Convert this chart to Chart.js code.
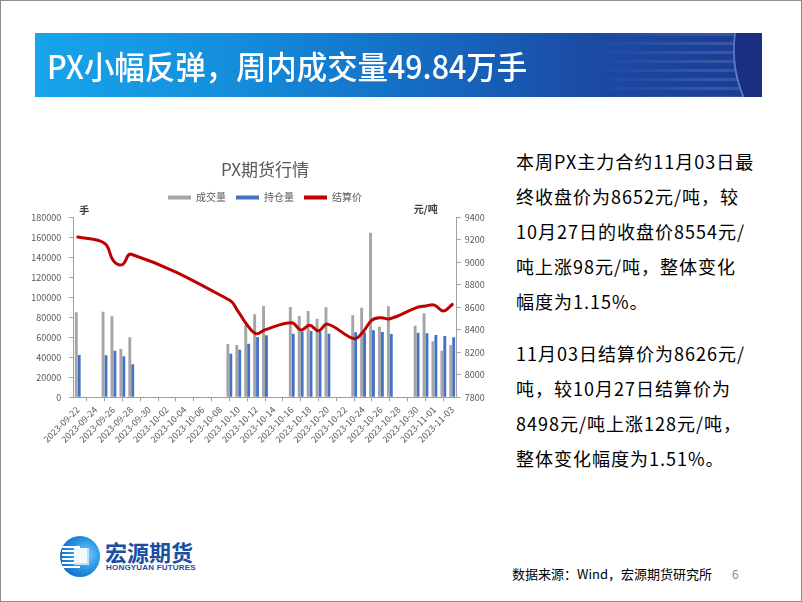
<!DOCTYPE html>
<html>
<head>
<meta charset="utf-8">
<script src="https://cdn.jsdelivr.net/npm/chart.js@4.4.0/dist/chart.umd.min.js"></script>
<style>
html,body{margin:0;padding:0;background:#fff;}
#slide{position:relative;width:800px;height:600px;border:1px solid #8c8c8c;overflow:hidden;font-family:"Noto Sans CJK SC",sans-serif;background:#fff;}
#banner{position:absolute;left:34px;top:32px;width:727px;height:64px;
  background:linear-gradient(90deg,#17a5ea 0%,#148ddb 28%,#1569c0 55%,#1b4ba4 76%,#1b3b94 100%);overflow:hidden;}
#stripes{position:absolute;left:560px;top:0;width:167px;height:64px;
  background:repeating-linear-gradient(180deg,rgba(255,255,255,0.12) 0 3px,rgba(255,255,255,0) 3px 9px);
  -webkit-mask-image:linear-gradient(90deg,transparent,#000 70%);mask-image:linear-gradient(90deg,transparent,#000 70%);}
#curve{position:absolute;left:700px;top:-70px;width:160px;height:200px;border-radius:50%;
  background:#1a2f82;border-left:2px solid rgba(160,200,255,0.5);transform:rotate(-18deg);}
#btitle{position:absolute;left:12px;top:0;height:64px;line-height:64px;color:#fff;font-size:32px;font-weight:500;white-space:nowrap;transform:scaleX(0.95);transform-origin:0 50%;}
#chartBox{position:absolute;left:29px;top:149px;width:470px;height:300px;}
#desc{position:absolute;left:515px;top:143px;font-size:18px;line-height:35px;color:#000;letter-spacing:1px;white-space:nowrap;}
#desc p{margin:0 0 17px 0;}
#source{position:absolute;left:511px;top:563px;font-size:13px;line-height:20px;color:#000;white-space:nowrap;}
#page{position:absolute;left:731px;top:563px;font-size:12px;line-height:20px;color:#8a8a8a;}
#logoIcon{position:absolute;left:59px;top:535px;width:40px;height:41px;border-radius:50%;
  background:radial-gradient(circle at 65% 45%,#7fd0fa 0%,#2a9ae6 40%,#136cc8 75%,#0c55b0 100%);overflow:hidden;}
#logoStripes{position:absolute;left:2px;top:10px;width:18px;height:22px;
  background:repeating-linear-gradient(180deg,#ffffff 0 2px,rgba(255,255,255,0) 2px 4px);}
#logoSquare{position:absolute;left:14px;top:12px;width:15px;height:17px;background:#f4fbff;box-shadow:inset -2px -2px 0 #bfe3fa;}
#logoCn{position:absolute;left:104px;top:537px;font-size:22px;line-height:26px;font-weight:bold;color:#1b4ea3;white-space:nowrap;}
#logoEn{position:absolute;left:105px;top:562px;font-size:8px;line-height:10px;font-weight:bold;color:#1b4ea3;letter-spacing:0.2px;white-space:nowrap;font-family:"Liberation Sans",Arial,sans-serif;}
</style>
</head>
<body>
<div id="slide">
  <div id="banner">
    <div id="stripes"></div>
    <div id="curve"></div>
    <div id="btitle">PX小幅反弹，周内成交量49.84万手</div>
  </div>
  <div id="chartBox"><canvas id="c" width="470" height="300"></canvas></div>
  <div id="desc">
    <p>本周PX主力合约11月03日最<br>终收盘价为8652元/吨，较<br>10月27日的收盘价8554元/<br>吨上涨98元/吨，整体变化<br>幅度为1.15%。</p>
    <p>11月03日结算价为8626元/<br>吨，较10月27日结算价为<br>8498元/吨上涨128元/吨，<br>整体变化幅度为1.51%。</p>
  </div>
  <div id="logoIcon"><div id="logoStripes"></div><div id="logoSquare"></div></div>
  <div id="logoCn">宏源期货</div>
  <div id="logoEn">HONGYUAN FUTURES</div>
  <div id="source">数据来源：Wind，宏源期货研究所</div>
  <div id="page">6</div>
</div>
<script>
// ---------- data ----------
const chartTitle = 'PX期货行情';
const leftUnit = '手';
const rightUnit = '元/吨';
const seriesNames = ['成交量', '持仓量', '结算价'];
const dates = [
  '2023-09-22','2023-09-23','2023-09-24','2023-09-25','2023-09-26','2023-09-27','2023-09-28',
  '2023-09-29','2023-09-30','2023-10-01','2023-10-02','2023-10-03','2023-10-04','2023-10-05',
  '2023-10-06','2023-10-07','2023-10-08','2023-10-09','2023-10-10','2023-10-11','2023-10-12',
  '2023-10-13','2023-10-14','2023-10-15','2023-10-16','2023-10-17','2023-10-18','2023-10-19',
  '2023-10-20','2023-10-21','2023-10-22','2023-10-23','2023-10-24','2023-10-25','2023-10-26',
  '2023-10-27','2023-10-28','2023-10-29','2023-10-30','2023-10-31','2023-11-01','2023-11-02',
  '2023-11-03'
];
const xTickLabels = [
  '2023-09-22','2023-09-24','2023-09-26','2023-09-28','2023-09-30','2023-10-02','2023-10-04',
  '2023-10-06','2023-10-08','2023-10-10','2023-10-12','2023-10-14','2023-10-16','2023-10-18',
  '2023-10-20','2023-10-22','2023-10-24','2023-10-26','2023-10-28','2023-10-30','2023-11-01',
  '2023-11-03'
];
const volume = [
  85000,null,null,85600,81000,48300,60000,
  null,null,null,null,null,null,null,
  null,null,null,53300,52300,72000,83000,
  91300,null,null,90300,81300,86300,78600,
  90000,null,null,82000,89600,164600,70600,
  91000,null,null,71600,84000,56000,46600,
  52300
];
const openInterest = [
  42300,null,null,42000,46600,41000,33000,
  null,null,null,null,null,null,null,
  null,null,null,43600,47600,53600,60300,
  62000,null,null,63600,65600,66300,65600,
  63600,null,null,65000,65000,67000,65300,
  63300,null,null,64600,64000,62300,61300,
  60000
];
const settlement = [
  9225,null,null,9170,9015,8980,9072,
  null,null,null,null,null,null,null,
  null,null,null,8665,8561,8443,8365,
  8400,null,null,8463,8398,8440,8392,
  8451,null,null,8321,8383,8487,8508,
  8498,null,null,8597,8612,8620,8567,
  8626
];
const leftAxis = {min: 0, max: 180000, step: 20000};
const rightAxis = {min: 7800, max: 9400, step: 200};

// ---------- chart ----------
Chart.defaults.font.family = '"Noto Sans CJK SC", sans-serif';
Chart.defaults.color = '#595959';
const axisColor = '#a0a0a0';

const unitLabels = {
  id: 'unitLabels',
  beforeInit(chart) {
    const lg = chart.legend;
    if (lg) {
      const origFit = lg.fit.bind(lg);
      lg.fit = function () { origFit(); this.height += 5; };
    }
  },
  afterDraw(chart) {
    const {ctx, chartArea: a} = chart;
    ctx.save();
    ctx.font = 'bold 10px "Noto Sans CJK SC", sans-serif';
    ctx.fillStyle = '#404040';
    ctx.textBaseline = 'middle';
    ctx.textAlign = 'left';
    ctx.fillText(leftUnit, a.left + 6, a.top - 7);
    ctx.textAlign = 'right';
    ctx.fillText(rightUnit, a.right - 19, a.top - 8);
    ctx.restore();
  }
};

new Chart(document.getElementById('c'), {
  data: {
    labels: dates,
    datasets: [
      {type: 'bar', label: seriesNames[0], data: volume, backgroundColor: '#a5a5a5', yAxisID: 'y',
       categoryPercentage: 0.65, barPercentage: 1.0, order: 1},
      {type: 'bar', label: seriesNames[1], data: openInterest, backgroundColor: '#4472c4', yAxisID: 'y',
       categoryPercentage: 0.65, barPercentage: 1.0, order: 1},
      {type: 'line', label: seriesNames[2], data: settlement, borderColor: '#c00000', backgroundColor: '#c00000',
       borderWidth: 3, pointRadius: 0, tension: 0.4, spanGaps: true, yAxisID: 'y1', order: 0,
       borderCapStyle: 'round', borderJoinStyle: 'round'}
    ]
  },
  options: {
    responsive: false,
    animation: false,
    layout: {padding: 0},
    plugins: {
      title: {display: true, text: chartTitle, font: {size: 17, weight: 'normal'}, color: '#595959',
              padding: {top: 9, bottom: 3}},
      legend: {display: true, position: 'top',
        labels: {
          boxWidth: 23, boxHeight: 4, padding: 10, font: {size: 10}, color: '#595959',
          sort: (a, b) => a.datasetIndex - b.datasetIndex,
          generateLabels(chart) {
            const items = Chart.defaults.plugins.legend.labels.generateLabels(chart);
            items.forEach(it => { it.lineWidth = 0; it.fillStyle = chart.data.datasets[it.datasetIndex].backgroundColor; });
            return items;
          }
        }
      },
      tooltip: {enabled: false}
    },
    scales: {
      x: {
        type: 'category',
        offset: true,
        grid: {display: true, offset: true, drawOnChartArea: false, drawTicks: true, tickLength: 4, color: axisColor},
        border: {display: true, color: axisColor},
        ticks: {
          autoSkip: false, minRotation: 45, maxRotation: 45, padding: 3, font: {size: 9}, color: '#595959',
          callback(v) { const l = this.getLabelForValue(v); return xTickLabels.includes(l) ? l : null; }
        },
        afterFit(s) { s.height = 52.7; }
      },
      y: {
        position: 'left', min: leftAxis.min, max: leftAxis.max,
        grid: {display: true, drawOnChartArea: false, drawTicks: true, tickLength: 4, color: axisColor},
        border: {display: true, color: axisColor},
        ticks: {stepSize: leftAxis.step, padding: 8, font: {size: 9}, color: '#595959', callback: v => String(v)},
        afterFit(s) { s.width = 43.3; }
      },
      y1: {
        position: 'right', min: rightAxis.min, max: rightAxis.max,
        grid: {display: true, drawOnChartArea: false, drawTicks: true, tickLength: 4, color: axisColor},
        border: {display: true, color: axisColor},
        ticks: {stepSize: rightAxis.step, padding: 4, font: {size: 9}, color: '#595959', callback: v => String(v)},
        afterFit(s) { s.width = 43.3; }
      }
    }
  },
  plugins: [unitLabels]
});
</script>
</body>
</html>
